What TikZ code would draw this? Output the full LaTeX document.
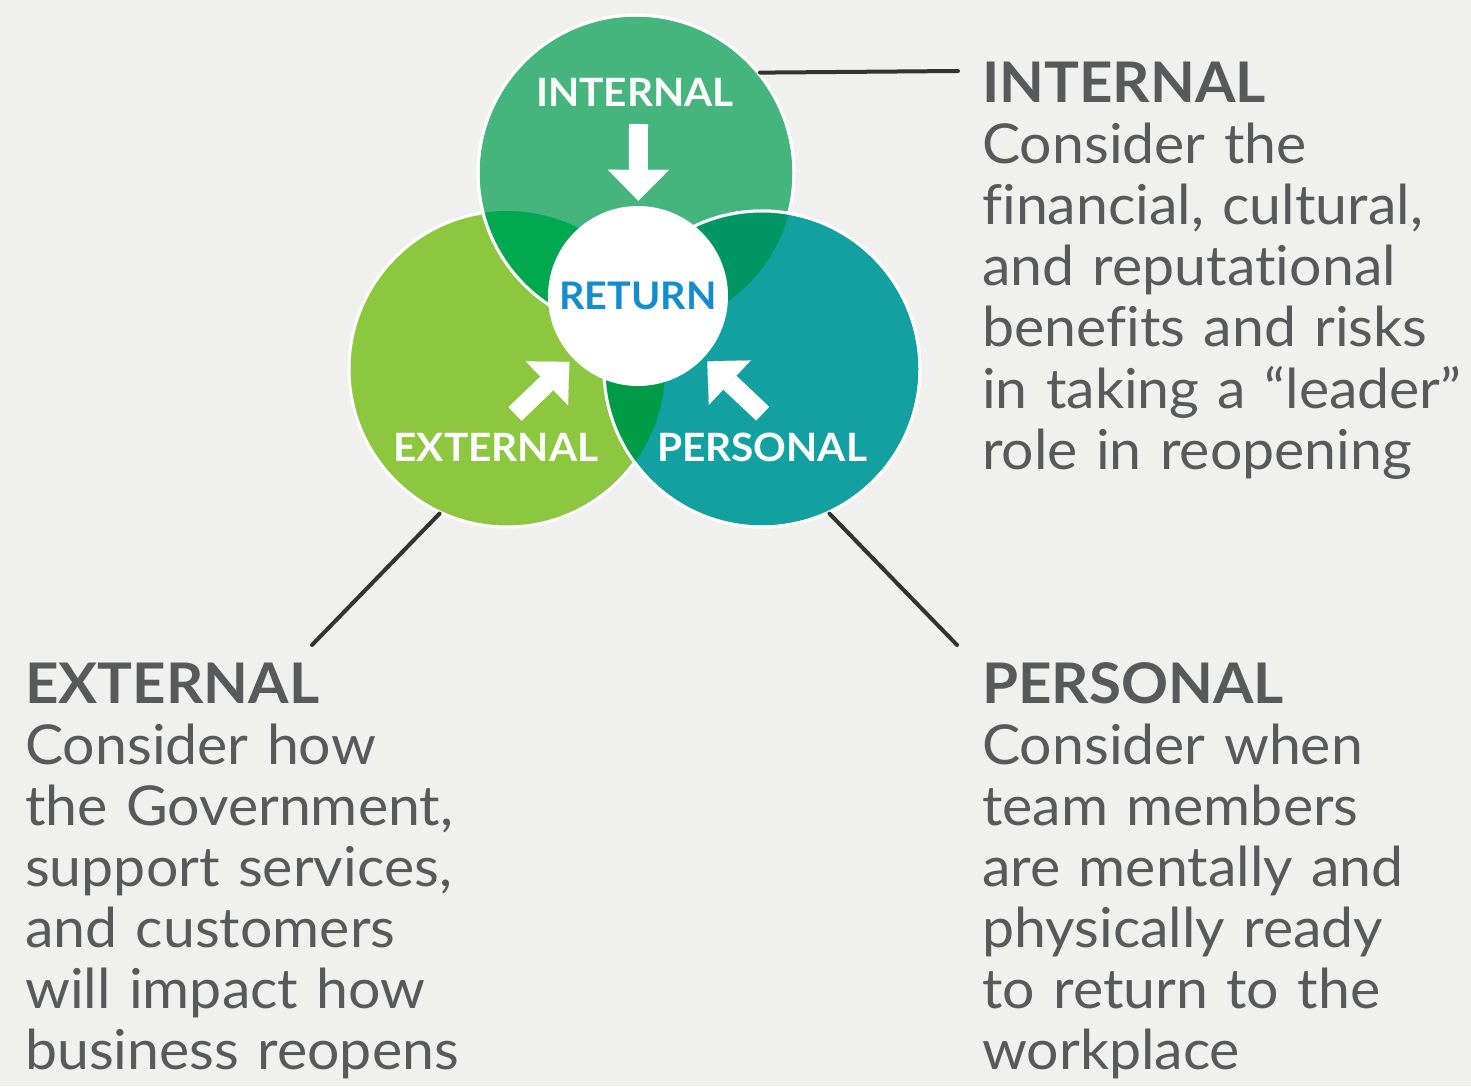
\documentclass[tikz,border=0pt]{standalone}
\usepackage{fontspec}
\setmainfont{Lato}[Ligatures=NoCommon, FakeStretch=1.04]
\usetikzlibrary{calc,arrows.meta}
\definecolor{bgc}{HTML}{F0F0EF}
\definecolor{intc}{HTML}{46B47D}
\definecolor{extc}{HTML}{8DC63F}
\definecolor{perc}{HTML}{13A0A0}
\definecolor{iec}{HTML}{00A850}
\definecolor{ipc}{HTML}{009664}
\definecolor{epc}{HTML}{009B46}
\definecolor{retc}{HTML}{158CCD}
\definecolor{txtc}{HTML}{58595B}
\definecolor{linec}{HTML}{333333}
\begin{document}
\begin{tikzpicture}[x=1pt,y=-1pt,
  venn/.style={circle, minimum size=316pt, inner sep=0pt, draw=white, line width=3pt},
  rim/.style={draw=white, line width=3pt},
  lab/.style={text=white, inner sep=0pt, font=\fontsize{39}{42}\selectfont\bfseries},
  block/.style={anchor=base west, inner sep=0pt, text width=490pt, align=left, text=txtc, font=\fontsize{55}{61}\selectfont},
  conn/.style={draw=linec, line width=4pt, line cap=round},
  barrow/.style={draw=white, line width=19pt, shorten >=5pt, -{Triangle[width=61pt,length=31pt,line width=0.1pt]}}
]
\useasboundingbox (0,0) rectangle (1471,1086);
\fill[bgc] (0,0) rectangle (1471,1086);

% Venn circles
\node[venn, fill=extc] (ext) at (507,369) {};
\node[venn, fill=intc] (int) at (636,173) {};
\begin{scope}
  \clip (ext.center) circle[radius=158pt];
  \fill[iec] (int.center) circle[radius=158pt];
\end{scope}
\draw[rim] (int.center) circle[radius=158pt];
\node[venn, fill=perc] (per) at (762,369) {};
\begin{scope}
  \clip (int.center) circle[radius=158pt];
  \fill[ipc] (per.center) circle[radius=158pt];
\end{scope}
\begin{scope}
  \clip (ext.center) circle[radius=158pt];
  \fill[epc] (per.center) circle[radius=158pt];
\end{scope}
\draw[rim] (per.center) circle[radius=158pt];

% center
\node[circle, fill=white, minimum size=180pt, inner sep=0pt, text=retc,
      font=\fontsize{38}{42}\selectfont\bfseries] (ret) at (638,296) {RETURN};

% circle labels
\node[lab] (lint) at (635,92) {INTERNAL};
\node[lab] (lext) at (496,447) {EXTERNAL};
\node[lab] (lper) at (762,447) {PERSONAL};

% block arrows
\coordinate (aI) at (638.5,124);
\coordinate (aE) at (515,414);
\coordinate (aP) at (762.7,413.7);
\draw[barrow] (aI) -- (ret);
\draw[barrow] (aE) -- (ret);
\draw[barrow] (aP) -- (ret);

% text blocks
\node[block] (tint) at (982,103) {{\fontsize{56}{61}\selectfont\bfseries INTERNAL}\\
Consider the\\
financial, cultural,\\
and reputational\\
benefits and risks\\
in taking a “leader”\\
role in reopening};
\node[block] (text) at (25,703) {{\fontsize{56}{61}\selectfont\bfseries EXTERNAL}\\
Consider how\\
the Government,\\
support services,\\
and customers\\
will impact how\\
business reopens};
\node[block] (tper) at (982,703) {{\fontsize{56}{61}\selectfont\bfseries PERSONAL}\\
Consider when\\
team members\\
are mentally and\\
physically ready\\
to return to the\\
workplace};

% connectors
\coordinate (cI) at (958,71);
\coordinate (cE) at (312,645);
\coordinate (cP) at (957,645);
\draw[conn] (int.39) -- (cI);
\draw[conn] (ext.245) -- (cE);
\draw[conn] (per.295) -- (cP);
\end{tikzpicture}
\end{document}
